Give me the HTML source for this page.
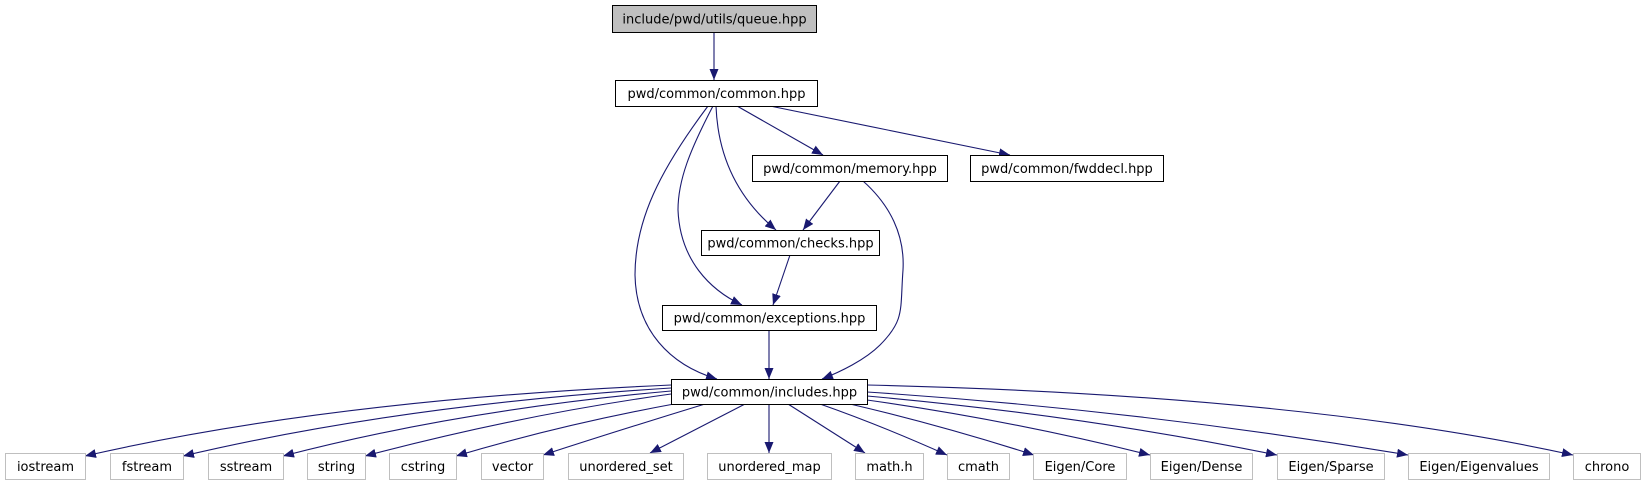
<!DOCTYPE html>
<html><head><meta charset="utf-8"><style>
html,body{margin:0;padding:0;background:#fff;}
svg{display:block;}
text{font-family:"DejaVu Sans","Liberation Sans",sans-serif;font-size:13px;fill:#000;}
</style></head><body>
<svg width="1645" height="485" viewBox="0 0 1645 485" xmlns="http://www.w3.org/2000/svg">
<defs>
<marker id="a" markerUnits="userSpaceOnUse" markerWidth="12" markerHeight="10" refX="11" refY="4.5" orient="auto">
<path d="M0,0 L11,4.5 L0,9 Z" fill="#191970"/>
</marker>
</defs>
<g fill="none" stroke="#191970" stroke-width="1.1" marker-end="url(#a)">
<path d="M714,32 L714,80"/>
<path d="M737,106 L823,155"/>
<path d="M770,106 L1010,155"/>
<path d="M716,106 C718,160 740,200 776,230"/>
<path d="M840,181 L803,230"/>
<path d="M713,106 C690,150 678,180 678,210 C680,260 710,290 742,305"/>
<path d="M708,106 C660,170 635,220 635,275 C636,330 670,365 717,379"/>
<path d="M790,255 L773,305"/>
<path d="M769,330 L769,379"/>
<path d="M863,181 C890,205 905,235 903,270 C900,310 905,320 880,345 C865,360 840,372 822,379"/>
<!-- bottom -->
<path d="M671,385 Q330,400 85,456"/>
<path d="M671,388 Q400,405 183,456"/>
<path d="M671,391 Q460,410 283,456"/>
<path d="M671,394 Q520,415 365,456"/>
<path d="M674,404 Q560,425 456,456"/>
<path d="M705,404 Q620,430 543,455"/>
<path d="M745,404 L650,453"/>
<path d="M769,404 L769,453"/>
<path d="M788,404 L865,453"/>
<path d="M820,404 Q880,425 947,455"/>
<path d="M850,404 Q940,425 1034,455"/>
<path d="M867,400 Q1010,420 1150,455"/>
<path d="M867,396 Q1080,415 1277,455"/>
<path d="M867,392 Q1140,410 1408,455"/>
<path d="M867,385 Q1300,395 1573,455"/>
</g>
<g stroke-width="1">
<rect x="612.5" y="5.5" width="204" height="27" fill="#bfbfbf" stroke="#000"/>
<rect x="615.5" y="80.5" width="202" height="26" fill="#fff" stroke="#000"/>
<rect x="752.5" y="155.5" width="195" height="26" fill="#fff" stroke="#000"/>
<rect x="970.5" y="155.5" width="193" height="26" fill="#fff" stroke="#000"/>
<rect x="701.5" y="230.5" width="178" height="25" fill="#fff" stroke="#000"/>
<rect x="662.5" y="305.5" width="214" height="25" fill="#fff" stroke="#000"/>
<rect x="671.5" y="379.5" width="196" height="25" fill="#fff" stroke="#000"/>
</g>
<g fill="#fff" stroke="#bfbfbf">
<rect x="5.5" y="453.5" width="80" height="26"/>
<rect x="110.5" y="453.5" width="73" height="26"/>
<rect x="208.5" y="453.5" width="75" height="26"/>
<rect x="307.5" y="453.5" width="58" height="26"/>
<rect x="389.5" y="453.5" width="67" height="26"/>
<rect x="481.5" y="453.5" width="62" height="26"/>
<rect x="568.5" y="453.5" width="115" height="26"/>
<rect x="707.5" y="453.5" width="124" height="26"/>
<rect x="855.5" y="453.5" width="68" height="26"/>
<rect x="947.5" y="453.5" width="62" height="26"/>
<rect x="1033.5" y="453.5" width="93" height="26"/>
<rect x="1150.5" y="453.5" width="102" height="26"/>
<rect x="1277.5" y="453.5" width="107" height="26"/>
<rect x="1408.5" y="453.5" width="141" height="26"/>
<rect x="1573.5" y="453.5" width="67" height="26"/>
</g>
<g text-anchor="middle">
<text x="714.5" y="23.5">include/pwd/utils/queue.hpp</text>
<text x="716.5" y="98">pwd/common/common.hpp</text>
<text x="850" y="173">pwd/common/memory.hpp</text>
<text x="1067" y="173">pwd/common/fwddecl.hpp</text>
<text x="790.5" y="247.5">pwd/common/checks.hpp</text>
<text x="769.5" y="322.5">pwd/common/exceptions.hpp</text>
<text x="769.5" y="396.5">pwd/common/includes.hpp</text>
<text x="45.5" y="471">iostream</text>
<text x="147" y="471">fstream</text>
<text x="246" y="471">sstream</text>
<text x="336.5" y="471">string</text>
<text x="423" y="471">cstring</text>
<text x="512.5" y="471">vector</text>
<text x="626" y="471">unordered_set</text>
<text x="769.5" y="471">unordered_map</text>
<text x="889.5" y="471">math.h</text>
<text x="978.5" y="471">cmath</text>
<text x="1080" y="471">Eigen/Core</text>
<text x="1201.5" y="471">Eigen/Dense</text>
<text x="1331" y="471">Eigen/Sparse</text>
<text x="1479" y="471">Eigen/Eigenvalues</text>
<text x="1607" y="471">chrono</text>
</g>
</svg>
</body></html>
